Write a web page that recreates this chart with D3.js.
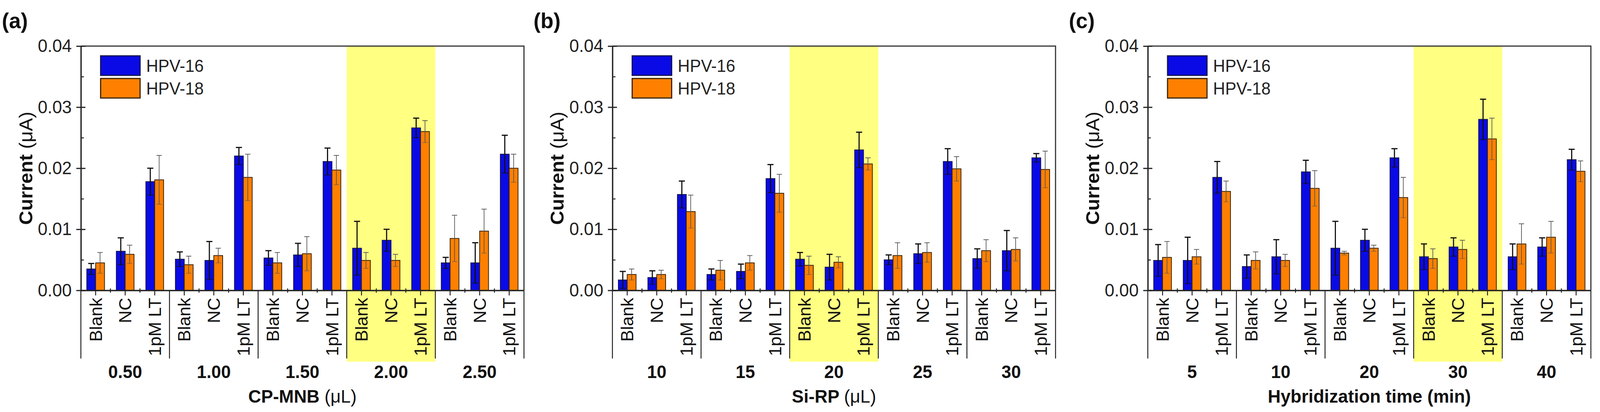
<!DOCTYPE html>
<html lang="en">
<head>
<meta charset="UTF-8">
<title>HPV-16 / HPV-18 current optimisation</title>
<script src="https://d3js.org/d3.v7.min.js"></script>
<style>
  html, body { margin: 0; padding: 0; background: #fff; overflow: hidden; }
  svg { display: block; width: 100vw; height: 100vh; font-family: 'Liberation Sans', Arial, sans-serif; }
</style>
</head>
<body>
<div id="chart"></div>
<script>
// shared
const categories = ["Blank", "NC", "1pM LT"];
const series = ["HPV-16", "HPV-18"];
const yTicks = [0, 0.01, 0.02, 0.03, 0.04];
const yMinorTicks = [0.005, 0.015, 0.025, 0.035];

// (a) CP-MNB volume
const groupsA = ["0.50", "1.00", "1.50", "2.00", "2.50"];
const hpv16A = [0.0035, 0.0064, 0.0178, 0.0051, 0.0049, 0.0220, 0.0053, 0.0058, 0.0211, 0.0069, 0.0082, 0.0266, 0.0045, 0.0045, 0.0223];
const hpv18A = [0.0045, 0.0059, 0.0181, 0.0042, 0.0057, 0.0185, 0.0045, 0.0060, 0.0197, 0.0049, 0.0049, 0.0260, 0.0085, 0.0097, 0.0200];
const err16A = [0.0009, 0.0022, 0.0022, 0.0012, 0.0031, 0.0014, 0.0012, 0.0019, 0.0022, 0.0044, 0.0018, 0.0016, 0.0009, 0.0033, 0.0031];
const err18A = [0.0017, 0.0015, 0.0040, 0.0014, 0.0012, 0.0038, 0.0017, 0.0028, 0.0024, 0.0013, 0.0010, 0.0018, 0.0038, 0.0036, 0.0023];

// (b) Si-RP volume
const groupsB = ["10", "15", "20", "25", "30"];
const hpv16B = [0.0017, 0.0021, 0.0157, 0.0026, 0.0031, 0.0183, 0.0051, 0.0038, 0.0230, 0.0050, 0.0060, 0.0211, 0.0052, 0.0065, 0.0217];
const hpv18B = [0.0026, 0.0026, 0.0129, 0.0033, 0.0045, 0.0159, 0.0041, 0.0046, 0.0207, 0.0057, 0.0062, 0.0199, 0.0065, 0.0067, 0.0198];
const err16B = [0.0014, 0.0011, 0.0022, 0.0009, 0.0012, 0.0023, 0.0011, 0.0021, 0.0029, 0.0008, 0.0016, 0.0021, 0.0016, 0.0033, 0.0007];
const err18B = [0.0009, 0.0007, 0.0027, 0.0016, 0.0012, 0.0031, 0.0015, 0.0009, 0.0010, 0.0021, 0.0016, 0.0020, 0.0018, 0.0019, 0.0030];

// (c) hybridization time
const groupsC = ["5", "10", "20", "30", "40"];
const hpv16C = [0.0049, 0.0049, 0.0185, 0.0039, 0.0055, 0.0194, 0.0069, 0.0082, 0.0217, 0.0055, 0.0071, 0.0280, 0.0055, 0.0071, 0.0214];
const hpv18C = [0.0054, 0.0055, 0.0162, 0.0049, 0.0049, 0.0167, 0.0061, 0.0069, 0.0152, 0.0052, 0.0067, 0.0248, 0.0076, 0.0087, 0.0195];
const err16C = [0.0026, 0.0038, 0.0026, 0.0019, 0.0028, 0.0019, 0.0044, 0.0018, 0.0015, 0.0021, 0.0015, 0.0033, 0.0021, 0.0015, 0.0017];
const err18C = [0.0026, 0.0012, 0.0017, 0.0014, 0.0010, 0.0029, 0.0003, 0.0005, 0.0033, 0.0016, 0.0015, 0.0034, 0.0033, 0.0026, 0.0017];

const panels = [
    { tag: "(a)", left: 213, groups: groupsA, highlight: "2.00", title: "CP-MNB ", unit: "(\u03bcL)", v16: hpv16A, v18: hpv18A, e16: err16A, e18: err18A },
    { tag: "(b)", left: 1613, groups: groupsB, highlight: "20", title: "Si-RP ", unit: "(\u03bcL)", v16: hpv16B, v18: hpv18B, e16: err16B, e18: err18B },
    { tag: "(c)", left: 3023, groups: groupsC, highlight: "30", title: "Hybridization time (min)", unit: "", v16: hpv16C, v18: hpv18C, e16: err16C, e18: err18C }
];

const W = 4214, H = 1055;
const plotW = 1167;
const yTop = 118, yBot = 743.5;
const colors = { "HPV-16": "#0a0ae6", "HPV-18": "#ff8000" };
const outline = { "HPV-16": "#141450", "HPV-18": "#3a2200" };
const errStyle = { "HPV-16": { c: "#111", w: 3, cap: 8 }, "HPV-18": { c: "#555", w: 1.8, cap: 7 } };

// viewBox so the drawing always fills the window exactly
const svg = d3.select("#chart").append("svg")
    .attr("viewBox", `0 0 ${W} ${H}`)
    .attr("preserveAspectRatio", "none");

const y = d3.scaleLinear().domain([0, 0.04]).range([yBot, yTop]);

panels.forEach(p => {
    const g = svg.append("g").attr("transform", `translate(${p.left},0)`);

    const keys = p.groups.flatMap(gr => categories.map(c => gr + "|" + c));
    const x = d3.scaleBand().domain(keys).range([0, plotW]);
    const gx = d3.scaleBand().domain(p.groups).range([0, plotW]);
    const sub = d3.scaleBand().domain(series).range([x.bandwidth() * 0.2, x.bandwidth() * 0.8]);

    // highlighted group
    g.append("rect")
        .attr("x", gx(p.highlight)).attr("width", gx.bandwidth())
        .attr("y", y(0.04)).attr("height", 926 - y(0.04))
        .attr("fill", "#ffff82");

    const rows = keys.map((k, i) => ({
        key: k,
        bars: [
            { s: "HPV-16", v: p.v16[i], e: p.e16[i] },
            { s: "HPV-18", v: p.v18[i], e: p.e18[i] }
        ]
    }));

    const cat = g.selectAll("g.cat").data(rows).join("g")
        .attr("class", "cat")
        .attr("transform", d => `translate(${x(d.key)},0)`);

    cat.selectAll("rect").data(d => d.bars).join("rect")
        .attr("x", d => sub(d.s)).attr("width", sub.bandwidth())
        .attr("y", d => y(d.v)).attr("height", d => y(0) - y(d.v))
        .attr("fill", d => colors[d.s])
        .attr("stroke", d => outline[d.s]).attr("stroke-width", 2);

    // error bars
    const eb = cat.selectAll("g.err").data(d => d.bars).join("g")
        .attr("class", "err")
        .attr("stroke", d => errStyle[d.s].c)
        .attr("stroke-width", d => errStyle[d.s].w);
    eb.append("line")
        .attr("x1", d => sub(d.s) + sub.bandwidth() / 2).attr("x2", d => sub(d.s) + sub.bandwidth() / 2)
        .attr("y1", d => y(d.v - d.e)).attr("y2", d => y(d.v + d.e));
    eb.append("line")
        .attr("x1", d => sub(d.s) + sub.bandwidth() / 2 - errStyle[d.s].cap)
        .attr("x2", d => sub(d.s) + sub.bandwidth() / 2 + errStyle[d.s].cap)
        .attr("y1", d => y(d.v + d.e)).attr("y2", d => y(d.v + d.e));
    eb.append("line")
        .attr("x1", d => sub(d.s) + sub.bandwidth() / 2 - errStyle[d.s].cap)
        .attr("x2", d => sub(d.s) + sub.bandwidth() / 2 + errStyle[d.s].cap)
        .attr("y1", d => y(d.v - d.e)).attr("y2", d => y(d.v - d.e))
        .attr("stroke-opacity", 0.6);

    // frame: top and right
    g.append("path")
        .attr("d", `M0,${yTop}H${plotW}V${yBot}`)
        .attr("fill", "none").attr("stroke", "#333").attr("stroke-width", 3);

    // y axis, ticks crossing the axis
    const yAx = g.append("g").call(d3.axisLeft(y).tickValues(yTicks)
        .tickFormat(d3.format(".2f")).tickSizeInner(12).tickSizeOuter(0).tickPadding(12));
    yAx.select(".domain").attr("stroke", "#222").attr("stroke-width", 3.5);
    yAx.selectAll(".tick line").attr("stroke", "#222").attr("stroke-width", 3);
    yAx.selectAll("text").attr("font-size", 46).attr("fill", "#222")
        .attr("font-family", "'Liberation Sans', Arial, sans-serif");
    const yIn = g.append("g").call(d3.axisRight(y).tickValues(yTicks).tickSize(12).tickFormat(""));
    yIn.select(".domain").remove();
    yIn.selectAll("line").attr("stroke", "#222").attr("stroke-width", 3);
    const yMin = g.append("g").call(d3.axisRight(y).tickValues(yMinorTicks).tickSize(8).tickFormat(""));
    yMin.select(".domain").remove();
    yMin.selectAll("line").attr("stroke", "#222").attr("stroke-width", 2.5);

    // x axis with rotated category labels
    const xAx = g.append("g").attr("transform", `translate(0,${yBot})`)
        .call(d3.axisBottom(x).tickSizeInner(13).tickSizeOuter(0).tickFormat(d => d.split("|")[1]));
    xAx.select(".domain").attr("stroke", "#222").attr("stroke-width", 3.5);
    xAx.selectAll(".tick line").attr("stroke", "#222").attr("stroke-width", 2.5);
    xAx.selectAll("text")
        .attr("transform", "rotate(-90)")
        .attr("x", -19).attr("y", 0).attr("dy", "0.36em")
        .attr("text-anchor", "end")
        .attr("font-size", 45).attr("fill", "#111")
        .attr("font-family", "'Liberation Sans', Arial, sans-serif");

    // small ticks between categories inside a group
    g.selectAll("line.minor").data(keys.filter((k, i) => i % 3 !== 0)).join("line")
        .attr("class", "minor")
        .attr("x1", d => x(d)).attr("x2", d => x(d))
        .attr("y1", yBot - 5).attr("y2", yBot + 6)
        .attr("stroke", "#222").attr("stroke-width", 2.5);

    // group separators
    const bounds = p.groups.map(gr => gx(gr)).concat([plotW]);
    g.selectAll("line.sep").data(bounds).join("line")
        .attr("class", "sep")
        .attr("x1", d => d).attr("x2", d => d)
        .attr("y1", yBot).attr("y2", 918)
        .attr("stroke", "#222").attr("stroke-width", 2.5);

    // group labels
    g.selectAll("text.grp").data(p.groups).join("text")
        .attr("class", "grp")
        .attr("x", d => gx(d) + gx.bandwidth() / 2).attr("y", 968)
        .attr("text-anchor", "middle")
        .attr("font-size", 46).attr("font-weight", "bold").attr("fill", "#111")
        .text(d => d);

    // x title
    const xt = g.append("text")
        .attr("x", plotW / 2).attr("y", 1031)
        .attr("text-anchor", "middle")
        .attr("font-size", 47).attr("font-weight", "bold").attr("fill", "#111");
    xt.append("tspan").text(p.title);
    if (p.unit) xt.append("tspan").attr("font-weight", "normal").text(p.unit);

    // y title
    const yt = g.append("text")
        .attr("transform", `translate(-128,${(yTop + yBot) / 2}) rotate(-90)`)
        .attr("text-anchor", "middle")
        .attr("font-size", 50).attr("font-weight", "bold").attr("fill", "#111");
    yt.append("tspan").text("Current ");
    yt.append("tspan").attr("font-weight", "normal").text("(\u03bcA)");

    // panel tag
    g.append("text")
        .attr("x", -208).attr("y", 72)
        .attr("font-size", 56).attr("font-weight", "bold").attr("fill", "#111")
        .text(p.tag);

    // legend
    const leg = g.selectAll("g.leg").data(series).join("g")
        .attr("class", "leg")
        .attr("transform", (d, i) => `translate(52,${143 + i * 58})`);
    leg.append("rect")
        .attr("width", 104).attr("height", 50)
        .attr("fill", d => colors[d])
        .attr("stroke", d => outline[d]).attr("stroke-width", 3);
    leg.append("text")
        .attr("x", 120).attr("y", 25).attr("dy", "0.36em")
        .attr("font-size", 44).attr("fill", "#222")
        .text(d => d);
});
</script>
</body>
</html>
